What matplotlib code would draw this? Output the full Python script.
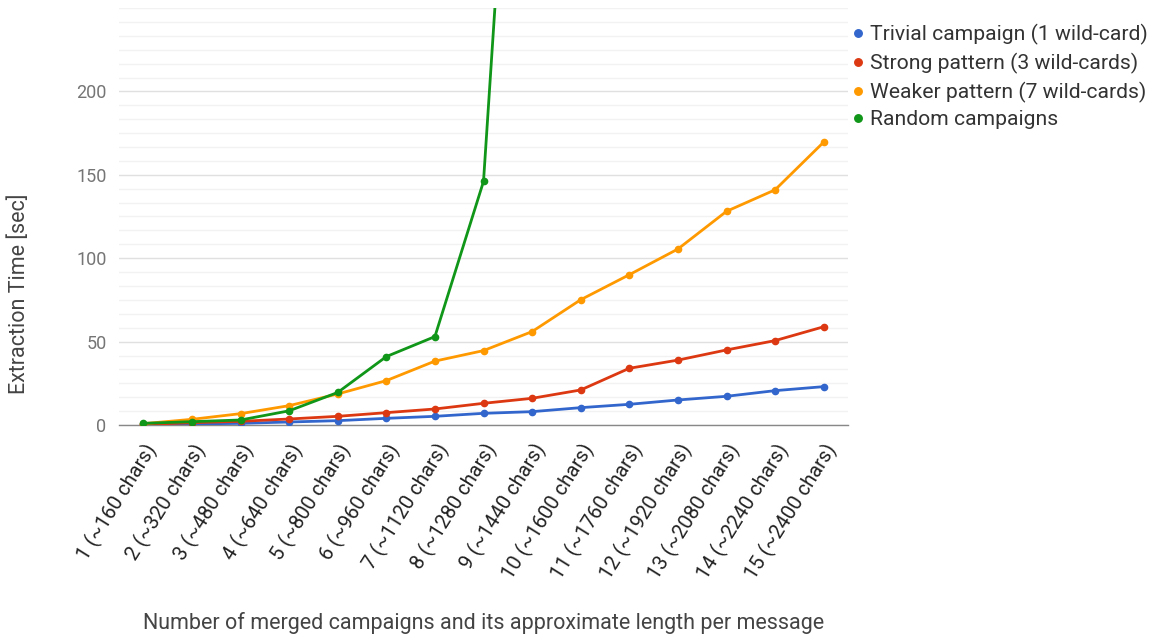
import matplotlib
matplotlib.use("Agg")
import matplotlib.pyplot as plt
from matplotlib.ticker import MultipleLocator

plt.rcParams['font.family'] = ['Roboto', 'DejaVu Sans']

categories = ['1 (~160 chars)', '2 (~320 chars)', '3 (~480 chars)', '4 (~640 chars)',
              '5 (~800 chars)', '6 (~960 chars)', '7 (~1120 chars)', '8 (~1280 chars)',
              '9 (~1440 chars)', '10 (~1600 chars)', '11 (~1760 chars)', '12 (~1920 chars)',
              '13 (~2080 chars)', '14 (~2240 chars)', '15 (~2400 chars)']

trivial = [0.3, 0.6, 1.0, 1.8, 2.6, 4.0, 5.2, 7.0, 8.0, 10.4, 12.4, 15.0, 17.2, 20.6, 23.0]
strong = [0.3, 1.4, 2.2, 3.6, 5.2, 7.4, 9.6, 13.0, 16.0, 21.0, 34.0, 38.9, 45.0, 50.6, 58.9]
weaker = [0.8, 3.4, 6.8, 11.6, 18.6, 26.6, 38.3, 44.6, 56.0, 75.1, 90.1, 105.5, 128.1, 141.0, 169.6]
random_c = [1.0, 2.0, 3.0, 8.5, 19.5, 41.0, 53.0, 146.0, 590.0]

series = [
    ('Trivial campaign (1 wild-card)', trivial, '#3366cc'),
    ('Strong pattern (3 wild-cards)', strong, '#dc3912'),
    ('Weaker pattern (7 wild-cards)', weaker, '#ff9900'),
    ('Random campaigns', random_c, '#109618'),
]

fig = plt.figure(figsize=(11.62, 6.37), dpi=100)
ax = fig.add_axes([119 / 1162, 1 - 425 / 637, (848 - 119) / 1162, (425 - 8) / 637])

for name, vals, col in series:
    xs = list(range(1, len(vals) + 1))
    ax.plot(xs, vals, color=col, lw=2.0, marker='o', markersize=4.5,
            label=name, solid_joinstyle='round', zorder=3)

ax.set_xlim(0.5, 15.5)
ax.set_ylim(0, 250)
ax.yaxis.set_major_locator(MultipleLocator(50))
ax.yaxis.set_minor_locator(MultipleLocator(50 / 6))
ax.grid(which='major', axis='y', color='#e0e0e0', lw=1.0, zorder=0)
ax.grid(which='minor', axis='y', color='#f2f2f2', lw=1.0, zorder=0)
ax.set_axisbelow(True)

for side in ['top', 'right', 'left']:
    ax.spines[side].set_visible(False)
ax.spines['bottom'].set_color('#888888')
ax.spines['bottom'].set_linewidth(1.0)
ax.spines['bottom'].set_zorder(2)

ax.set_xticks(range(1, 16))
ax.set_xticklabels(categories, rotation=58, ha='right', va='top',
                   rotation_mode='anchor', fontsize=14.5, color='#222222')
ax.tick_params(axis='x', length=0, pad=11)
ax.tick_params(axis='y', which='both', length=0, pad=9, labelsize=13, labelcolor='#757575')
ax.set_yticks([0, 50, 100, 150, 200])

fig.text(484 / 1162, 1 - 623 / 637, 'Number of merged campaigns and its approximate length per message',
         ha='center', va='center', fontsize=15.5, color='#444444')
fig.text(19 / 1162, 1 - 294 / 637, 'Extraction Time [sec]', rotation=90,
         ha='center', va='center', fontsize=15.5, color='#444444')

leg = ax.legend(loc='upper left', bbox_to_anchor=(0.988, 1.0 - 1 / 417), frameon=False,
                fontsize=15.2, handlelength=0.4, handletextpad=0.35, labelspacing=0.37,
                borderaxespad=0.3, markerscale=1.2, labelcolor='#333333')
for h in leg.legend_handles:
    h.set_linestyle('none')

fig.savefig('out.png', dpi=100)
